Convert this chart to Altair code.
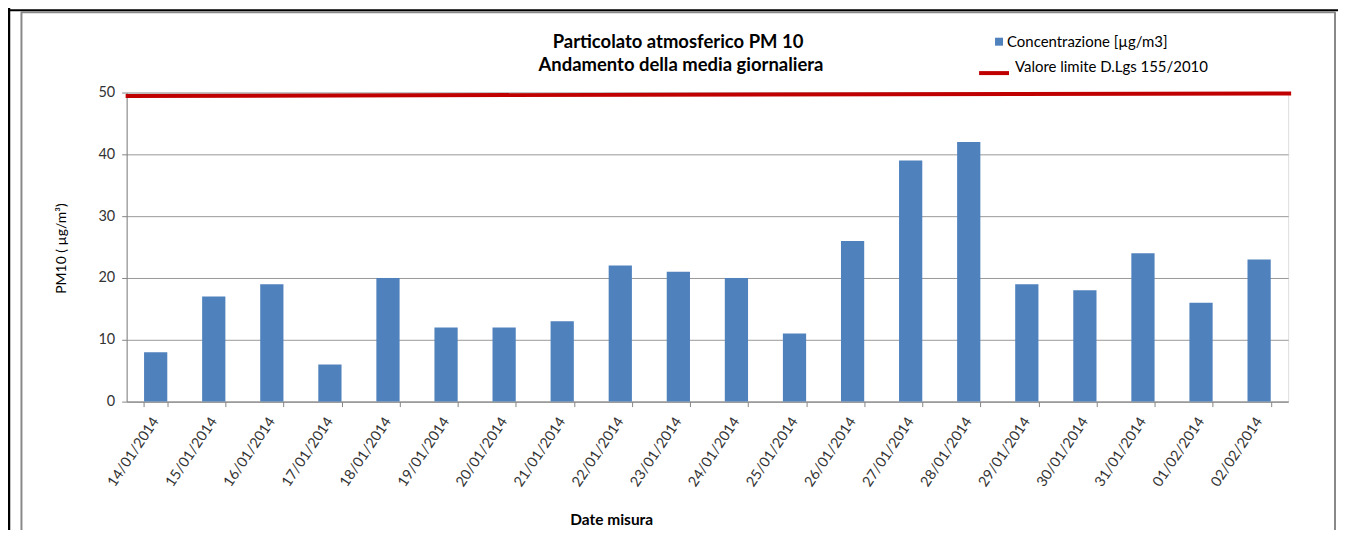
import altair as alt
import pandas as pd

DATES = ["14/01/2014", "15/01/2014", "16/01/2014", "17/01/2014", "18/01/2014",
         "19/01/2014", "20/01/2014", "21/01/2014", "22/01/2014", "23/01/2014",
         "24/01/2014", "25/01/2014", "26/01/2014", "27/01/2014", "28/01/2014",
         "29/01/2014", "30/01/2014", "31/01/2014", "01/02/2014", "02/02/2014"]
VALUES = [8, 17, 19, 6, 20, 12, 12, 13, 22, 21, 20, 11, 26, 39, 42, 19, 18, 24, 16, 23]
LIMIT_START = [49.45]
LIMIT_END = [49.85]
Y_TICKS = [0, 10, 20, 30, 40, 50]
TITLE_LINES = ["Particolato  atmosferico PM 10", "Andamento della media giornaliera"]
LEGEND_LABELS = ["Concentrazione [µg/m3]", "Valore limite D.Lgs 155/2010"]
Y_TITLE = "PM10 ( µg/m³)"
X_TITLE = "Date misura"

FONT = "Lato"
BAR = "#4F81BD"
RED = "#C00000"
W, H = 1165, 310
L = 119  # left padding -> plot left at page x 127

df = pd.DataFrame({"date": DATES, "value": VALUES})

yscale = alt.Scale(domain=[0, 50], nice=False, zero=True)

bars = alt.Chart(df).mark_bar(color=BAR).encode(
    x=alt.X("date:N", sort=None,
            scale=alt.Scale(paddingInner=0.6, paddingOuter=0.3),
            axis=alt.Axis(title=X_TITLE, labelAngle=-56, labelFontSize=14.5,
                          labelFont=FONT, labelColor="#333333",
                          tickBand="extent", tickSize=5, tickColor="#868686",
                          domainColor="#868686", labelPadding=12,
                          titleFont=FONT, titleFontSize=15.5, titleFontWeight="bold",
                          titleColor="#000000", titleX=486, titleY=118,
                          titleAlign="center", titleBaseline="middle")),
    y=alt.Y("value:Q", scale=yscale,
            axis=alt.Axis(title=Y_TITLE, values=Y_TICKS, grid=True,
                          gridColor="#999999", gridWidth=1,
                          tickSize=5, tickColor="#868686", domainColor="#868686",
                          labelFont=FONT, labelFontSize=14.5, labelColor="#333333",
                          labelPadding=7,
                          titleFont=FONT, titleFontSize=14, titleFontWeight="normal",
                          titleColor="#000000", titleX=-65, titleY=156,
                          titleAlign="center", titleBaseline="middle", titleAngle=270)),
)

limit_df = pd.DataFrame({"a": LIMIT_START, "b": LIMIT_END})
limit = alt.Chart(limit_df).mark_rule(color=RED, strokeWidth=4).encode(
    x=alt.value(-1), x2=alt.value(W + 3),
    y=alt.Y("a:Q", scale=yscale), y2="b:Q",
)

one = pd.DataFrame({"k": [0]})

def rule(x, x2, y, y2, color, width):
    return alt.Chart(one).mark_rule(color=color, strokeWidth=width).encode(
        x=alt.value(x - (L - 118)), x2=alt.value(x2 - (L - 118)),
        y=alt.value(y), y2=alt.value(y2))

frame = [
    rule(-117, -117, -92, 460, "#000000", 2.5),
    rule(-118, 1230, -82.5, -82.5, "#000000", 2),
    rule(-104.5, -104.5, -81, 460, "#888888", 2),
    rule(-105, 1213, -80.5, -80.5, "#888888", 2),
    rule(1213, 1213, -81, 460, "#888888", 2),
]

titles = pd.DataFrame({"t": TITLE_LINES})
t1 = alt.Chart(titles.iloc[[0]]).mark_text(font=FONT, fontSize=18.5, fontWeight="bold",
                                           color="#000000", align="center", baseline="middle").encode(
    text="t:N", x=alt.value(553), y=alt.value(-51))
t2 = alt.Chart(titles.iloc[[1]]).mark_text(font=FONT, fontSize=18.5, fontWeight="bold",
                                           color="#000000", align="center", baseline="middle").encode(
    text="t:N", x=alt.value(556), y=alt.value(-28))

leg = pd.DataFrame({"t": LEGEND_LABELS})
leg_sq = alt.Chart(one).mark_square(color=BAR, size=64, opacity=1).encode(
    x=alt.value(875), y=alt.value(-51))
leg_t1 = alt.Chart(leg.iloc[[0]]).mark_text(font=FONT, fontSize=15, color="#000000",
                                            align="left", baseline="middle").encode(
    text="t:N", x=alt.value(883), y=alt.value(-51))
leg_line = rule(856, 886, -19.5, -19.5, RED, 4)
leg_t2 = alt.Chart(leg.iloc[[1]]).mark_text(font=FONT, fontSize=15, color="#000000",
                                            align="left", baseline="middle").encode(
    text="t:N", x=alt.value(891), y=alt.value(-26))

chart = alt.layer(bars, limit, *frame, t1, t2, leg_sq, leg_t1, leg_line, leg_t2).properties(
    width=W, height=H,
    autosize=alt.AutoSizeParams(type="none"),
    padding={"left": L, "top": 84, "right": 50, "bottom": 128},
).configure_view(stroke=None).configure(background="white")

chart.save("out.html", embed_options={"renderer": "svg", "actions": False})
